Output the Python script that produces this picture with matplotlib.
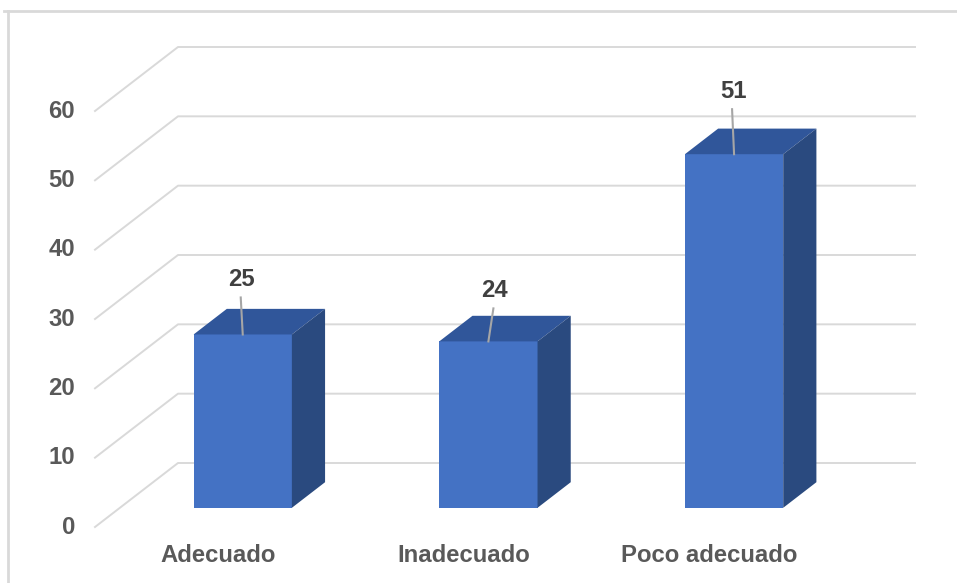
import matplotlib.pyplot as plt
from matplotlib.lines import Line2D
from matplotlib.patches import Polygon

# datos del gráfico
categorias = ['Adecuado', 'Inadecuado', 'Poco adecuado']
valores = [25, 24, 51]
ticks_y = [0, 10, 20, 30, 40, 50, 60]

# estilo
c_frente = '#4472C4'
c_tope = '#30569A'
c_lado = '#2A4A7F'
c_grid = '#D9D9D9'
c_tick = '#595959'
c_etiq = '#404040'
fuente = 'Liberation Sans'
tam = 17.2

W, H = 957, 583
fig = plt.figure(figsize=(W / 100, H / 100), dpi=100)

# ejes: pared frontal de x=95px a 832px, y de 527px (0) a 111px (60)
ax = fig.add_axes([95 / W, (H - 527) / H, (832 - 95) / W, (527 - 111) / H])
ax.set_xlim(-0.5, 2.5)
ax.set_ylim(0, 60)
ax.axis('off')

px_x = (832 - 95) / 3.0      # px por categoria
px_y = (527 - 111) / 60.0    # px por unidad
ddx = 83 / px_x              # profundidad total (x)
ddy = 64 / px_y              # profundidad total (y)
ancho = 0.4
z0, z1 = 0.3, 0.7            # profundidad de la barra

# lineas de la cuadricula (pared lateral + pared del fondo)
for v in ticks_y:
    ax.plot([-0.5, -0.5 + ddx, 2.5 + ddx], [v, v + ddy, v + ddy],
            color=c_grid, lw=1.4, clip_on=False, zorder=1)
    ax.text(-0.5 - 20 / px_x, v, str(v), ha='right', va='center',
            fontsize=tam, fontweight='bold', color=c_tick, family=fuente)

# desplazamiento de etiquetas (px)
etiq_dx = [-1, 6, -1]
etiq_dy = [55, 51, 63]

for i, (cat, val) in enumerate(zip(categorias, valores)):
    x0 = i - ancho / 2 + z0 * ddx
    x1 = i + ancho / 2 + z0 * ddx
    yb = z0 * ddy
    yt = val + z0 * ddy
    bx = (z1 - z0) * ddx
    by = (z1 - z0) * ddy
    frente = Polygon([(x0, yb), (x1, yb), (x1, yt), (x0, yt)], closed=True,
                     fc=c_frente, ec='none', clip_on=False, zorder=3)
    tope = Polygon([(x0, yt), (x1, yt), (x1 + bx, yt + by), (x0 + bx, yt + by)],
                   closed=True, fc=c_tope, ec='none', clip_on=False, zorder=3)
    lado = Polygon([(x1, yb), (x1 + bx, yb + by), (x1 + bx, yt + by), (x1, yt)],
                   closed=True, fc=c_lado, ec='none', clip_on=False, zorder=3)
    for p in (frente, tope, lado):
        ax.add_patch(p)

    # etiqueta de datos con linea guia
    xc = (x0 + x1) / 2
    lx = xc + etiq_dx[i] / px_x
    ly = yt + etiq_dy[i] / px_y
    ax.plot([lx - 1 / px_x, xc], [ly - 18 / px_y, yt], color='#A6A6A6', lw=1.5,
            clip_on=False, zorder=4)
    ax.text(lx, ly, str(val), ha='center', va='center', fontsize=tam,
            fontweight='bold', color=c_etiq, family=fuente, zorder=5)

    # etiqueta de categoria
    ax.text(i, -28 / px_y, cat, ha='center', va='center', fontsize=tam,
            fontweight='bold', color=c_tick, family=fuente)

# borde del area del grafico
fig.add_artist(Line2D([4 / W, 1], [1 - 11 / H, 1 - 11 / H], color=c_grid, lw=2))
fig.add_artist(Line2D([8 / W, 8 / W], [0, 1 - 11 / H], color=c_grid, lw=2))

fig.savefig('out.png', dpi=100)
